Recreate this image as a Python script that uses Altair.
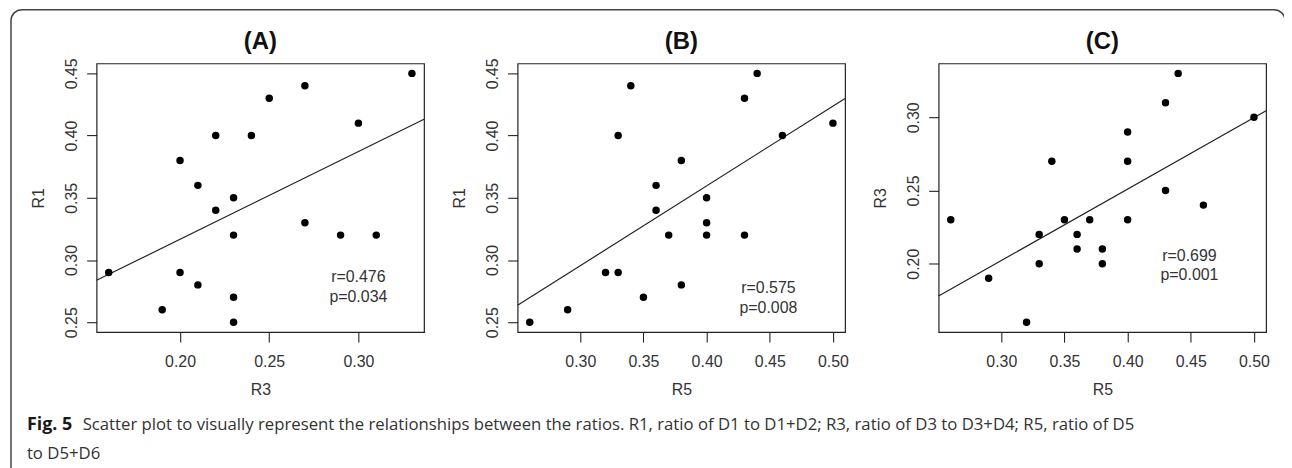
import altair as alt
import pandas as pd

# 20 subjects: ratios
R5 = [0.26, 0.29, 0.32, 0.33, 0.33, 0.34, 0.35, 0.36, 0.36, 0.37,
      0.38, 0.38, 0.40, 0.40, 0.40, 0.43, 0.43, 0.44, 0.46, 0.50]
R1 = [0.25, 0.26, 0.29, 0.29, 0.40, 0.44, 0.27, 0.36, 0.34, 0.32,
      0.38, 0.28, 0.35, 0.33, 0.32, 0.43, 0.32, 0.45, 0.40, 0.41]
R3 = [0.23, 0.19, 0.16, 0.20, 0.22, 0.27, 0.23, 0.21, 0.22, 0.23,
      0.20, 0.21, 0.23, 0.27, 0.29, 0.25, 0.31, 0.33, 0.24, 0.30]

panel_titles = ["(A)", "(B)", "(C)"]
r_texts = ["r=0.476", "r=0.575", "r=0.699"]
p_texts = ["p=0.034", "p=0.008", "p=0.001"]
ticks_R1 = [0.25, 0.30, 0.35, 0.40, 0.45]
ticks_R3_x = [0.20, 0.25, 0.30]
ticks_R3_y = [0.20, 0.25, 0.30]
ticks_R5 = [0.30, 0.35, 0.40, 0.45, 0.50]

caption_bold = "Fig. 5"
caption_line1 = ("Scatter plot to visually represent the relationships between the ratios. "
                 "R1, ratio of D1 to D1+D2; R3, ratio of D3 to D3+D4; R5, ratio of D5")
caption_line2 = "to D5+D6"

FONT = "Liberation Sans"
CAP_FONT = "Open Sans"
INK = "#222222"
W, H = 329, 270


def ext(v):
    lo, hi = min(v), max(v)
    d = (hi - lo) * 0.04
    return [lo - d, hi + d]


def txt(s, x, y, **kw):
    return alt.Chart(pd.DataFrame({"t": [s]})).mark_text(**kw).encode(
        text="t:N", x=alt.value(x), y=alt.value(y))


def panel(xs, ys, xname, yname, title, xticks, yticks, r_t, p_t, ann):
    df = pd.DataFrame({xname: xs, yname: ys})
    xdom, ydom = ext(xs), ext(ys)
    xenc = alt.X(f"{xname}:Q",
                 scale=alt.Scale(domain=xdom, nice=False, zero=False),
                 axis=alt.Axis(values=xticks, format=".2f", labelFlush=False,
                               labelPadding=12, titlePadding=12, labelOverlap=False))
    yenc = alt.Y(f"{yname}:Q",
                 scale=alt.Scale(domain=ydom, nice=False, zero=False),
                 axis=alt.Axis(values=yticks, format=".2f", labelAngle=270,
                               labelAlign="center", labelBaseline="alphabetic",
                               labelPadding=10, titlePadding=17, labelFlush=False,
                               labelOverlap=False))
    base = alt.Chart(df)
    pts = base.mark_circle(size=56, color="black", opacity=1).encode(x=xenc, y=yenc)
    line = base.transform_regression(xname, yname, extent=xdom).mark_line(
        color=INK, strokeWidth=1.2).encode(x=f"{xname}:Q", y=f"{yname}:Q")
    ax, ay1, ay2 = ann
    style = dict(font=FONT, fontSize=16, color="#333333", align="center", baseline="alphabetic")
    t1 = txt(r_t, ax, ay1, **style)
    t2 = txt(p_t, ax, ay2, **style)
    ttl = txt(title, W / 2, -14, font=FONT, fontSize=24, fontWeight="bold",
              color="#111111", align="center", baseline="alphabetic")
    return [line, pts, t1, t2, ttl]


layersA = panel(R3, R1, "R3", "R1", panel_titles[0], ticks_R3_x, ticks_R1,
                r_texts[0], p_texts[0], (263, 220, 240))
layersB = panel(R5, R1, "R5", "R1", panel_titles[1], ticks_R5, ticks_R1,
                r_texts[1], p_texts[1], (252, 231, 251))
layersC = panel(R5, R3, "R5", "R3", panel_titles[2], ticks_R5, ticks_R3_y,
                r_texts[2], p_texts[2], (252, 198, 218))

# figure frame and caption (decoration, drawn relative to panel A)
frame = alt.Chart(pd.DataFrame({"a": [0]})).mark_rect(
    fill="transparent", stroke="#444444", strokeWidth=1.5, cornerRadius=11
).encode(x=alt.value(-86), x2=alt.value(1194), y=alt.value(-54), y2=alt.value(420))
cap_b = txt(caption_bold, -70, 368, font=CAP_FONT, fontSize=18, fontWeight="bold",
            color="#1a1a1a", align="left", baseline="alphabetic")
cap_1 = txt(caption_line1, -14, 368, font=CAP_FONT, fontSize=16.8, color="#333333",
            align="left", baseline="alphabetic")
cap_2 = txt(caption_line2, -70, 397, font=CAP_FONT, fontSize=16.8, color="#333333",
            align="left", baseline="alphabetic")

A = alt.layer(frame, cap_b, cap_1, cap_2, *layersA).properties(width=W, height=H)
B = alt.layer(*layersB).properties(width=W, height=H)
C = alt.layer(*layersC).properties(width=W, height=H)

chart = alt.hconcat(A, B, C, spacing=94, bounds="flush").properties(
    autosize=alt.AutoSizeParams(type="none"),
    padding={"left": 89, "top": 54, "right": 1193, "bottom": 394},
).configure_view(
    stroke=INK, strokeWidth=1.2
).configure_axis(
    grid=False, domain=False, tickColor=INK, tickSize=10, tickWidth=1.1,
    labelFont=FONT, labelFontSize=16, labelColor="#333333",
    titleFont=FONT, titleFontSize=16, titleFontWeight="normal", titleColor="#333333"
)

chart.save("out.html", embed_options={"renderer": "svg", "actions": False})
